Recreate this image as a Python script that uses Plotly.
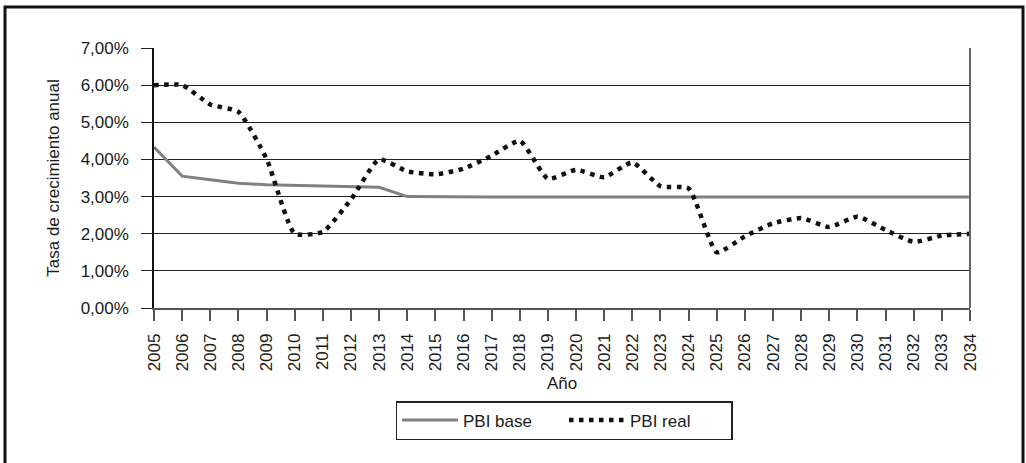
import plotly.graph_objects as go

years = list(range(2005, 2035))
pbi_base = [4.33, 3.55, 3.45, 3.36, 3.32, 3.30, 3.29, 3.28, 3.25, 3.00,
            2.99, 2.99, 2.99, 2.99, 2.99, 2.99, 2.99, 2.99, 2.99, 2.99,
            2.99, 2.99, 2.99, 2.99, 2.99, 2.99, 2.99, 2.99, 2.99, 2.99]
pbi_real = [6.00, 6.00, 5.48, 5.28, 4.02, 2.00, 2.05, 2.92, 4.00, 3.68,
            3.60, 3.75, 4.10, 4.50, 3.48, 3.72, 3.52, 3.92, 3.28, 3.22,
            1.50, 1.93, 2.28, 2.42, 2.18, 2.46, 2.10, 1.78, 1.95, 2.00]
y_ticks = [0, 1, 2, 3, 4, 5, 6, 7]

W, H = 1026, 463
L, R, T, B = 154, 56, 48, 155
pw, ph = W - L - R, H - T - B

def px_to_paper_x(x):
    return (x - L) / pw

def px_to_paper_y(y):
    return (H - B - y) / ph

fig = go.Figure()
fig.add_trace(go.Scatter(
    x=years, y=[v / 100 for v in pbi_base], name="PBI base", mode="lines",
    line=dict(color="#808080", width=3)))
fig.add_trace(go.Scatter(
    x=years, y=[v / 100 for v in pbi_real], name="PBI real", mode="lines",
    line=dict(color="#111111", width=4.5, dash="4.5px,5.5px", shape="spline", smoothing=0.5)))

font = dict(family="Liberation Sans, Arial, sans-serif", size=17, color="#1a1a1a")

fig.update_layout(
    width=W, height=H,
    margin=dict(l=L, r=R, t=T, b=B, autoexpand=False),
    paper_bgcolor="white", plot_bgcolor="white",
    separators=",.",
    font=font,
    showlegend=True,
    legend=dict(orientation="h", x=px_to_paper_x(564), xanchor="center",
                y=px_to_paper_y(401), yanchor="top",
                bordercolor="#222222", borderwidth=1.5,
                font=font, itemwidth=56, entrywidth=96, tracegroupgap=0),
    xaxis=dict(range=[2005, 2034], tickmode="array", tickvals=years,
               ticktext=[str(y) for y in years], tickangle=-90,
               showgrid=False, zeroline=False, automargin=False,
               showline=True, linecolor="#555555", linewidth=1.5,
               ticks="outside", ticklen=11, tickcolor="#555555", tickwidth=1.5,
               ticklabelstandoff=6,
               title=dict(text="Año", standoff=7, font=font),
               tickfont=font),
    yaxis=dict(range=[0, 0.07], tickmode="array", tickvals=[v / 100 for v in y_ticks],
               tickformat=".2%", showgrid=True, gridcolor="#222222", gridwidth=1,
               zeroline=False, showline=True, linecolor="#111111", linewidth=1.5,
               ticks="outside", ticklen=11, tickcolor="#222222", tickwidth=1,
               ticklabelstandoff=9, automargin=False,
               title=dict(text="Tasa de crecimiento anual", standoff=17, font=font),
               tickfont=font),
    shapes=[
        dict(type="line", xref="paper", yref="paper", x0=1, x1=1, y0=0, y1=1,
             line=dict(color="#666666", width=2)),
        dict(type="rect", xref="paper", yref="paper",
             x0=px_to_paper_x(5), x1=px_to_paper_x(1023),
             y0=px_to_paper_y(475), y1=px_to_paper_y(7),
             line=dict(color="#111111", width=3)),
    ],
)

fig.write_html("out.html", config={"displayModeBar": False},
               post_script="document.body.style.margin='0';document.body.style.overflow='hidden';")
